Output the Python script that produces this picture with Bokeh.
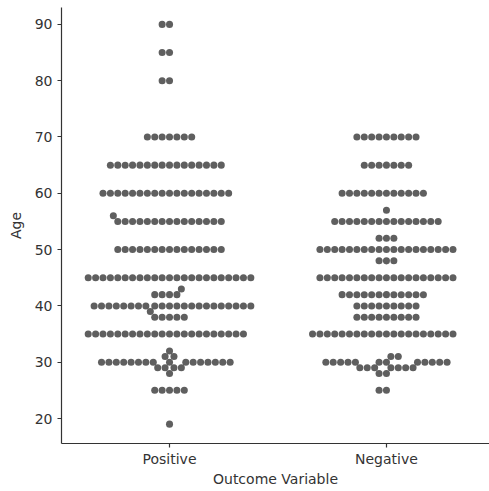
import numpy as np
from bokeh.plotting import figure
from bokeh.models import Range1d, FixedTicker, ColumnDataSource
from bokeh.embed import file_html
from bokeh.resources import INLINE

# ---- data ----
categories = ["Positive", "Negative"]
positive_ages = [19, 25, 28, 29, 30, 31, 32, 35, 38, 39, 40, 42, 43, 45, 50, 55, 56, 60, 65, 70, 80, 85, 90]
positive_counts = [1, 5, 1, 4, 16, 2, 1, 22, 5, 1, 22, 4, 1, 23, 15, 15, 1, 18, 16, 7, 2, 2, 2]
negative_ages = [25, 28, 29, 30, 31, 35, 38, 40, 42, 45, 48, 50, 52, 55, 57, 60, 65, 70]
negative_counts = [2, 2, 7, 12, 2, 20, 9, 9, 12, 19, 3, 19, 3, 15, 1, 12, 7, 9]

y_ticks = [20, 30, 40, 50, 60, 70, 80, 90]

# ---- layout ----
W, H = 489, 491
LEFT, RIGHT, TOP, BOTTOM = 61, 0, 7, 48
X0, X1 = -0.498, 1.475
Y0, Y1 = 15.56, 93.0
frame_w = W - LEFT - RIGHT
frame_h = H - TOP - BOTTOM
px_x = frame_w / (X1 - X0)
px_y = frame_h / (Y1 - Y0)
R = 3.52  # marker radius in px


def old_argsort(v):
    """Introsort-style argsort (quicksort partitions, insertion sort on small runs)."""
    n = len(v)
    t = list(range(n))
    if n <= 1:
        return t
    pl, pr = 0, n - 1
    stack, dstack = [], []
    cdepth = (n.bit_length() - 1) * 2
    while True:
        if cdepth < 0:
            t[pl:pr + 1] = sorted(t[pl:pr + 1], key=lambda i: v[i])
        else:
            while pr - pl > 15:
                pm = pl + ((pr - pl) >> 1)
                if v[t[pm]] < v[t[pl]]:
                    t[pm], t[pl] = t[pl], t[pm]
                if v[t[pr]] < v[t[pm]]:
                    t[pr], t[pm] = t[pm], t[pr]
                if v[t[pm]] < v[t[pl]]:
                    t[pm], t[pl] = t[pl], t[pm]
                vp = v[t[pm]]
                pi, pj = pl, pr - 1
                t[pm], t[pj] = t[pj], t[pm]
                while True:
                    pi += 1
                    while v[t[pi]] < vp:
                        pi += 1
                    pj -= 1
                    while vp < v[t[pj]]:
                        pj -= 1
                    if pi >= pj:
                        break
                    t[pi], t[pj] = t[pj], t[pi]
                pk = pr - 1
                t[pi], t[pk] = t[pk], t[pi]
                if pi - pl < pr - pi:
                    stack.append((pi + 1, pr))
                    pr = pi - 1
                else:
                    stack.append((pl, pi - 1))
                    pl = pi + 1
                cdepth -= 1
                dstack.append(cdepth)
            for i in range(pl + 1, pr + 1):
                vi = t[i]
                vv = v[vi]
                j = i
                while j > pl and vv < v[t[j - 1]]:
                    t[j] = t[j - 1]
                    j -= 1
                t[j] = vi
        if not stack:
            break
        pl, pr = stack.pop()
        cdepth = dstack.pop()
    return t


def swarm_px(vals, midline):
    """Beeswarm in pixel space; returns (x_offset_px, value) pairs."""
    pts = [(midline, BOTTOM + (v - Y0) * px_y, R) for v in vals]
    swarm = [pts[0]]
    for xyr_i in pts[1:]:
        _, y_i, r_i = xyr_i
        neigh = []
        for xyr_j in reversed(swarm):
            if (y_i - xyr_j[1]) < (r_i + xyr_j[2]):
                neigh.append(xyr_j)
            else:
                break
        neigh = neigh[::-1]
        cands = [xyr_i]
        left_first = True
        for x_j, y_j, r_j in neigh:
            dy = y_i - y_j
            dx = np.sqrt(max((r_i + r_j) ** 2 - dy ** 2, 0)) * 1.05
            cl, cr = (x_j - dx, y_i, r_i), (x_j + dx, y_i, r_i)
            cands.extend([cl, cr] if left_first else [cr, cl])
            left_first = not left_first
        offs = [abs(c[0] - midline) for c in cands]
        order = old_argsort(offs)
        chosen = cands[order[0]]
        if neigh:
            nx = np.array([n[0] for n in neigh])
            ny = np.array([n[1] for n in neigh])
            nr = np.array([n[2] for n in neigh])
            for k in order:
                c = cands[k]
                if np.all((nx - c[0]) ** 2 + (ny - c[1]) ** 2 >= (nr + c[2]) ** 2):
                    chosen = c
                    break
        swarm.append(chosen)
    return [(sx - midline, v) for (sx, _, _), v in zip(swarm, vals)]


def score_positive(res):
    def mean_off(age):
        o = [dx for dx, v in res if v == age]
        return np.mean(o) if o else 0.0
    checks = [mean_off(56) > 0, mean_off(43) > 0, mean_off(39) < 0,
              mean_off(65) > 0, mean_off(60) > 0, mean_off(35) > 0,
              mean_off(30) > 0]
    return sum(checks)


xs, ys = [], []
for idx, (ages, counts) in enumerate([(positive_ages, positive_counts),
                                      (negative_ages, negative_counts)]):
    vals = []
    for a, c in zip(ages, counts):
        vals.extend([a] * c)
    vals = sorted(vals)
    base_mid = LEFT + (idx - X0) * px_x
    if idx == 0:
        best, best_s = None, -1
        for k in range(24):
            res = swarm_px(vals, base_mid + 0.37 * k)
            s = score_positive(res)
            if s > best_s:
                best, best_s = res, s
            if s == 7:
                break
        res = best
    else:
        res = swarm_px(vals, base_mid)
    for dx, v in res:
        xs.append(idx + dx / px_x)
        ys.append(v)

source = ColumnDataSource(dict(x=xs, y=ys))

p = figure(width=W, height=H, output_backend="svg", toolbar_location=None,
           x_range=Range1d(X0, X1), y_range=Range1d(Y0, Y1),
           min_border_left=LEFT, min_border_right=RIGHT,
           min_border_top=TOP, min_border_bottom=BOTTOM)

p.scatter("x", "y", source=source, size=2 * R, fill_color="#5f5f5f",
          line_color=None)

p.grid.visible = False
p.outline_line_color = None
p.background_fill_color = "white"
p.border_fill_color = "white"

p.xaxis.ticker = FixedTicker(ticks=list(range(len(categories))))
p.xaxis.major_label_overrides = {i: c for i, c in enumerate(categories)}
p.yaxis.ticker = FixedTicker(ticks=y_ticks)

for ax in (p.xaxis, p.yaxis):
    ax.axis_line_color = "#333333"
    ax.axis_line_width = 1.2
    ax.major_tick_line_color = "#333333"
    ax.major_tick_line_width = 1.2
    ax.major_tick_in = 0
    ax.major_tick_out = 4
    ax.minor_tick_line_color = None
    ax.major_label_text_font = "DejaVu Sans"
    ax.major_label_text_font_size = "14px"
    ax.major_label_text_color = "#333333"
    ax.axis_label_text_font = "DejaVu Sans"
    ax.axis_label_text_font_size = "14px"
    ax.axis_label_text_font_style = "normal"
    ax.axis_label_text_color = "#333333"

p.xaxis.axis_label = "Outcome Variable"
p.yaxis.axis_label = "Age"
p.xaxis.major_label_standoff = 3
p.xaxis.axis_label_standoff = 1
p.yaxis.major_label_standoff = 5
p.yaxis.axis_label_standoff = 8

open("out.html", "w").write(file_html(p, INLINE))
